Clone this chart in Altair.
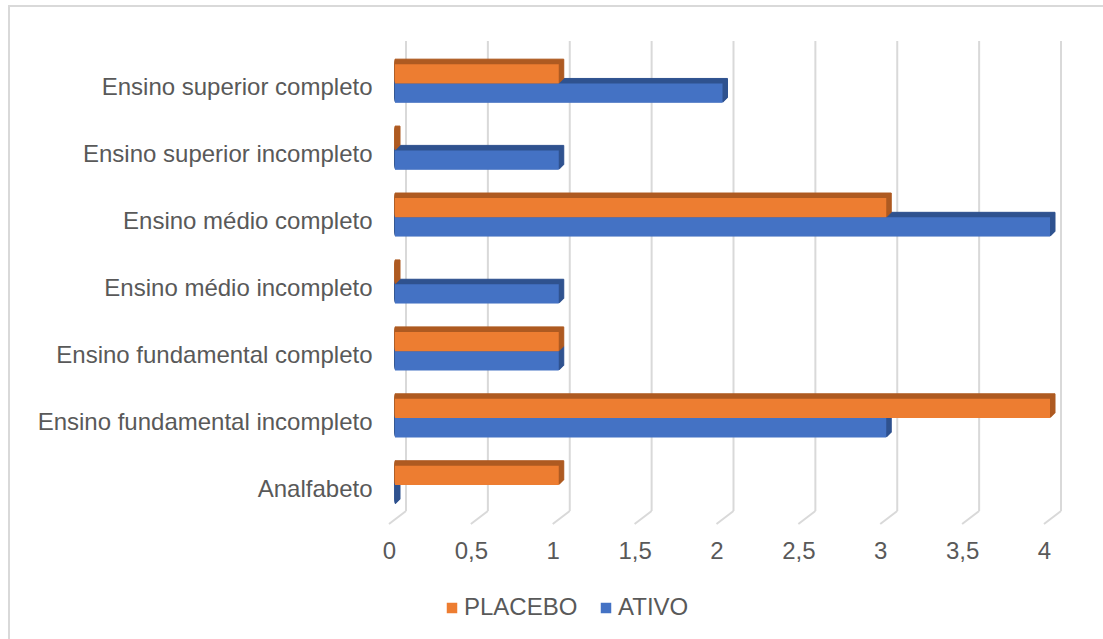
import altair as alt
import pandas as pd

# Escolaridade por grupo
categories = [
    "Ensino superior completo",
    "Ensino superior incompleto",
    "Ensino médio completo",
    "Ensino médio incompleto",
    "Ensino fundamental completo",
    "Ensino fundamental incompleto",
    "Analfabeto",
]
placebo = [1, 0, 3, 0, 1, 4, 1]
ativo = [2, 1, 4, 1, 1, 3, 0]
series = ["PLACEBO", "ATIVO"]
x_ticks = [0, 0.5, 1, 1.5, 2, 2.5, 3, 3.5, 4]

front_colors = {"PLACEBO": "#ED7D31", "ATIVO": "#4472C4"}
shade_colors = {"PLACEBO": "#AE5A21", "ATIVO": "#2F528F"}

df = pd.DataFrame({
    "categoria": categories * 2,
    "grupo": ["PLACEBO"] * len(categories) + ["ATIVO"] * len(categories),
    "valor": placebo + ativo,
})
grid_df = pd.DataFrame({"v": x_ticks})

W, H = 655, 468.5
BAR = 19.3      # bar thickness in px
DEPTH = 5       # 3D extrusion depth in px
BACK_DX = 11    # back wall shift
TEXT = "#595959"
FONT_SIZE = 24

x_scale = alt.Scale(domain=[0, 4], nice=False, zero=True)
x_axis = alt.Axis(
    values=x_ticks, title=None, grid=False, domain=False, ticks=False,
    labelFlush=False, labelOverlap=False, labelPadding=21, labelOffset=-6,
    labelFontSize=FONT_SIZE, labelColor=TEXT,
    labelExpr="replace(format(datum.value, '~g'), '.', ',')",
)
y_axis = alt.Axis(
    title=None, grid=False, domain=False, ticks=False, labelPadding=23,
    labelFontSize=FONT_SIZE, labelColor=TEXT, labelLimit=400, labelOffset=5,
)
y_enc = alt.Y("categoria:N", sort=categories,
              scale=alt.Scale(paddingInner=0, paddingOuter=0), axis=y_axis)


def x_val():
    return alt.X("valor:Q", scale=x_scale, axis=x_axis, stack=None)


# frame around the chart
frame = alt.Chart(pd.DataFrame({"a": [0]})).mark_rect(
    fillOpacity=0, stroke="#D9D9D9", strokeWidth=2
).encode(x=alt.value(-386), x2=alt.value(720), y=alt.value(-44), y2=alt.value(600))

# back-wall gridlines
grid = alt.Chart(grid_df).mark_rule(
    color="#D9D9D9", strokeWidth=2, xOffset=BACK_DX
).encode(
    x=alt.X("v:Q", scale=x_scale, axis=x_axis),
    y=alt.value(-9), y2=alt.value(461),
)

# floor lines running toward the viewer
floor = alt.Chart(grid_df).mark_rule(
    color="#D9D9D9", strokeWidth=2, xOffset=BACK_DX, x2Offset=-6
).encode(
    x=alt.X("v:Q", scale=x_scale, axis=x_axis),
    x2="v:Q",
    y=alt.value(461), y2=alt.value(474),
)

layers = [frame, grid, floor]
for name in ["ATIVO", "PLACEBO"]:
    base_off = -BAR / 2 if name == "PLACEBO" else BAR / 2
    sub = alt.Chart(df).transform_filter(alt.datum.grupo == name)
    for k in range(1, DEPTH + 1):
        layers.append(
            sub.mark_bar(
                height=BAR, color=shade_colors[name], stroke=shade_colors[name],
                strokeWidth=1, xOffset=k, x2Offset=k,
                yOffset=base_off - k, y2Offset=base_off - k,
            ).encode(x=x_val(), y=y_enc)
        )
    layers.append(
        sub.mark_bar(height=BAR, yOffset=base_off, y2Offset=base_off).encode(
            x=x_val(),
            y=y_enc,
            color=alt.Color(
                "grupo:N",
                scale=alt.Scale(domain=series,
                                range=[front_colors[s] for s in series]),
                legend=alt.Legend(
                    title=None, orient="none", legendX=45, legendY=546,
                    direction="horizontal", symbolType="square", symbolSize=110,
                    symbolStrokeWidth=0, labelFontSize=FONT_SIZE, labelColor=TEXT,
                    labelOffset=0, columnPadding=16, padding=0,
                ),
            ),
        )
    )

chart = alt.layer(*layers).properties(
    width=W, height=H,
    padding={"left": 395, "top": 50, "right": 53, "bottom": 120.5},
    autosize=alt.AutoSizeParams(type="none"),
    background="white",
).configure(font="Liberation Sans").configure_view(strokeWidth=0)

chart.save("out.html", embed_options={"renderer": "svg", "actions": False})
